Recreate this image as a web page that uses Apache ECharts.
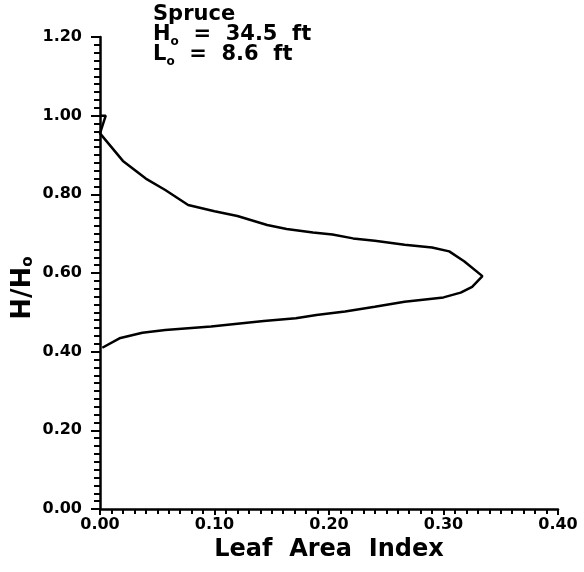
<!DOCTYPE html>
<html>
<head>
<meta charset="utf-8">
<script src="https://cdn.jsdelivr.net/npm/echarts@6/dist/echarts.min.js"></script>
<style>html,body{margin:0;padding:0;background:#fff}#c{width:584px;height:572px}</style>
</head>
<body>
<div id="c"></div>
<script>
// Leaf area index profile (x) versus relative height H/Ho (y), traced in drawing order
const laiValues = [0.000, 0.005, 0.000, 0.020, 0.040, 0.057, 0.077, 0.100, 0.120, 0.146, 0.163, 0.186, 0.203, 0.221, 0.240, 0.266, 0.290, 0.305, 0.318, 0.334, 0.325, 0.315, 0.300, 0.266, 0.240, 0.214, 0.189, 0.171, 0.143, 0.097, 0.057, 0.037, 0.017, 0.002];
const heightRatio = [1.000, 1.000, 0.955, 0.885, 0.840, 0.811, 0.773, 0.757, 0.745, 0.722, 0.712, 0.703, 0.698, 0.688, 0.682, 0.672, 0.665, 0.655, 0.630, 0.592, 0.565, 0.550, 0.538, 0.527, 0.514, 0.502, 0.493, 0.485, 0.478, 0.464, 0.455, 0.448, 0.434, 0.410];
const xTickLabels = ['0.00', '0.10', '0.20', '0.30', '0.40'];
const yTickLabels = ['0.00', '0.20', '0.40', '0.60', '0.80', '1.00', '1.20'];
const speciesName = 'Spruce';
const treeHeight = '34.5';
const crownLength = '8.6';

const FONT = 'DejaVu Sans';
const chart = echarts.init(document.getElementById('c'), null, {renderer: 'canvas'});
const pts = laiValues.map((x, i) => [x, heightRatio[i]]);

chart.setOption({
  backgroundColor: '#fff',
  animation: false,
  grid: {left: 100, right: 26, top: 37, bottom: 63},
  xAxis: {
    type: 'value', min: 0, max: 0.4, interval: 0.1,
    name: 'Leaf  Area  Index', nameLocation: 'middle', nameGap: 23,
    nameTextStyle: {color: '#000', fontFamily: FONT, fontWeight: 'bold', fontSize: 24},
    axisLine: {show: true, lineStyle: {color: '#000', width: 2.5}},
    axisTick: {show: true, inside: false, length: 6, lineStyle: {color: '#000', width: 2}},
    minorTick: {show: true, splitNumber: 10, length: 5, lineStyle: {color: '#000', width: 2}},
    splitLine: {show: false},
    axisLabel: {color: '#000', fontFamily: FONT, fontWeight: 'bold', fontSize: 16, margin: 8,
      formatter: v => xTickLabels[Math.round(v * 10)]}
  },
  yAxis: {
    type: 'value', min: 0, max: 1.2, interval: 0.2,
    axisLine: {show: true, lineStyle: {color: '#000', width: 2.5}},
    axisTick: {show: true, inside: false, length: 9, lineStyle: {color: '#000', width: 2}},
    minorTick: {show: true, splitNumber: 10, length: 6, lineStyle: {color: '#000', width: 2}},
    splitLine: {show: false},
    axisLabel: {color: '#000', fontFamily: FONT, fontWeight: 'bold', fontSize: 16, margin: 18,
      formatter: v => yTickLabels[Math.round(v * 5)]}
  },
  graphic: [
    {
      type: 'text', left: 153, top: 4,
      style: {
        text: speciesName + '\n{b|H}{s|o}{b|  =  ' + treeHeight + '  ft}\n{b|L}{s|o}{b|  =  ' + crownLength + '  ft}',
        font: 'bold 21px ' + FONT, fill: '#000', lineHeight: 20,
        rich: {
          b: {fontFamily: FONT, fontWeight: 'bold', fontSize: 21, lineHeight: 20, fill: '#000'},
          s: {fontFamily: FONT, fontWeight: 'bold', fontSize: 12, lineHeight: 12, verticalAlign: 'bottom', fill: '#000', padding: [0, 0, -3, 0]}
        }
      }
    },
    {
      type: 'text', x: 10, y: 288, rotation: Math.PI / 2,
      style: {
        text: '{b|H/H}{s|o}',
        fill: '#000', align: 'center', verticalAlign: 'top',
        rich: {
          b: {fontFamily: FONT, fontWeight: 'bold', fontSize: 26, lineHeight: 26, fill: '#000'},
          s: {fontFamily: FONT, fontWeight: 'bold', fontSize: 15, lineHeight: 15, verticalAlign: 'bottom', fill: '#000'}
        }
      }
    }
  ],
  series: [{
    type: 'line', data: pts, showSymbol: false, symbol: 'none', smooth: false,
    lineStyle: {color: '#000', width: 2.5}, silent: true
  }]
});
</script>
</body>
</html>
